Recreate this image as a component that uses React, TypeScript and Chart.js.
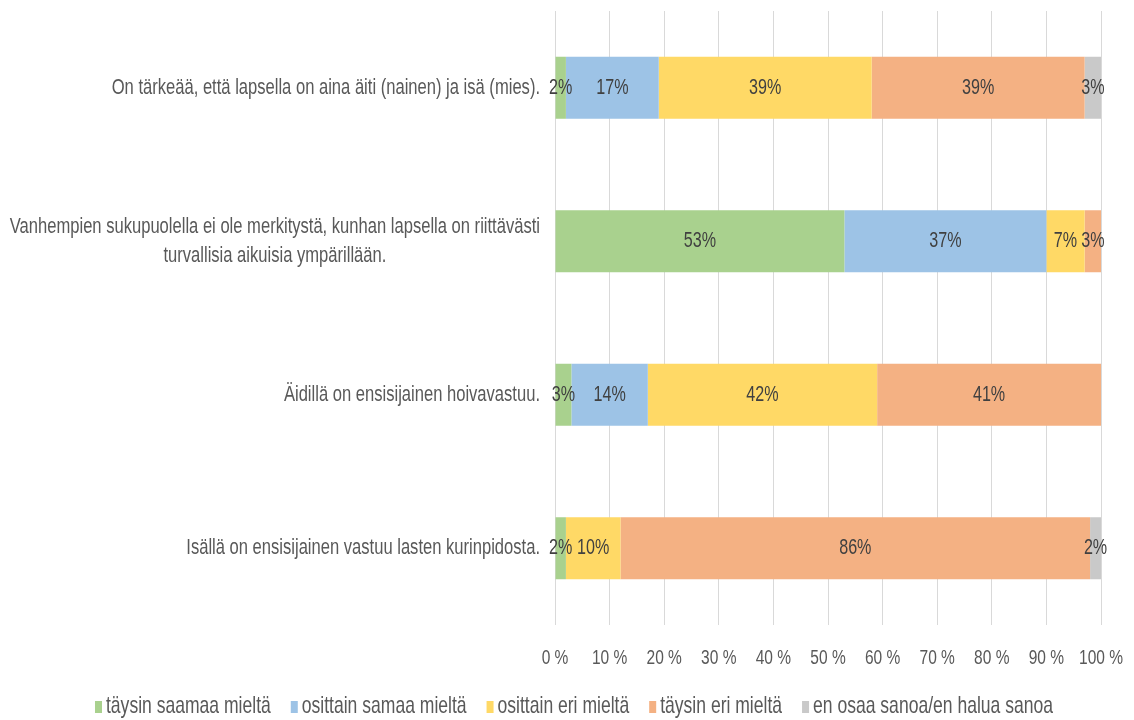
import React, { useEffect, useRef } from "react";
import { Chart, registerables } from "chart.js";

Chart.register(...registerables);

const categories: (string | string[])[] = [
  "On tärkeää, että lapsella on aina äiti (nainen) ja isä (mies).",
  [
    "Vanhempien sukupuolella ei ole merkitystä, kunhan lapsella on riittävästi",
    "turvallisia aikuisia ympärillään.",
  ],
  "Äidillä on ensisijainen hoivavastuu.",
  "Isällä on ensisijainen vastuu lasten kurinpidosta.",
];

const seriesNames = [
  "täysin saamaa mieltä",
  "osittain samaa mieltä",
  "osittain eri mieltä",
  "täysin eri mieltä",
  "en osaa sanoa/en halua sanoa",
];

const taysinSamaa = [2, 53, 3, 2];
const osittainSamaa = [17, 37, 14, 0];
const osittainEri = [39, 7, 42, 10];
const taysinEri = [39, 3, 41, 86];
const enOsaa = [3, 0, 0, 2];

const colors = ["#A9D18E", "#9DC3E6", "#FFD966", "#F4B183", "#C9C9C9"];

const xTicks = [0, 10, 20, 30, 40, 50, 60, 70, 80, 90, 100];

const FONT = "'Liberation Sans', Arial, sans-serif";
const SX = 0.75; // horizontal text condensing

const PLOT_LEFT = 555;

function drawText(ctx: any, text: string, x: number, y: number, align: string, size: number, color: string) {
  ctx.save();
  ctx.font = `${size}px ${FONT}`;
  ctx.fillStyle = color;
  ctx.textAlign = align;
  ctx.textBaseline = "middle";
  ctx.translate(x, y);
  ctx.scale(SX, 1);
  ctx.fillText(text, 0, 0);
  ctx.restore();
}

function measure(ctx: any, text: string, size: number) {
  ctx.save();
  ctx.font = `${size}px ${FONT}`;
  const w = ctx.measureText(text).width * SX;
  ctx.restore();
  return w;
}

const yLabelPlugin = {
  id: "yLabels",
  afterDraw(chart: any) {
    const ctx = chart.ctx;
    const yScale = chart.scales.y;
    const size = 22.1;
    const lineH = 29;
    categories.forEach((cat, i) => {
      const lines = Array.isArray(cat) ? cat : [cat];
      const maxW = Math.max(...lines.map((l) => measure(ctx, l, size)));
      const cx = PLOT_LEFT - 15 - maxW / 2;
      const cy = yScale.getPixelForValue(i);
      lines.forEach((l, j) => {
        drawText(ctx, l, cx, cy + (j - (lines.length - 1) / 2) * lineH, "center", size, "#595959");
      });
    });
  },
};

const xLabelPlugin = {
  id: "xLabels",
  afterDraw(chart: any) {
    const ctx = chart.ctx;
    const xScale = chart.scales.x;
    xTicks.forEach((v) => {
      drawText(ctx, `${v} %`, xScale.getPixelForValue(v), 658, "center", 20.7, "#595959");
    });
  },
};

const dataLabelPlugin = {
  id: "segLabels",
  afterDatasetsDraw(chart: any) {
    const ctx = chart.ctx;
    chart.data.datasets.forEach((ds: any, di: number) => {
      const meta = chart.getDatasetMeta(di);
      meta.data.forEach((bar: any, i: number) => {
        const v = ds.data[i];
        if (!v) return;
        const x = (bar.x + bar.base) / 2;
        drawText(ctx, `${v}%`, x, bar.y, "center", 21.5, "#404040");
      });
    });
  },
};

const legendPlugin = {
  id: "customLegend",
  afterDraw(chart: any) {
    const ctx = chart.ctx;
    const size = 23.4;
    const boxW = 7;
    const boxH = 12;
    const gapBox = 4;
    const gapItem = 20;
    const widths = seriesNames.map((n) => boxW + gapBox + measure(ctx, n, size));
    const total = widths.reduce((a, b) => a + b, 0) + gapItem * (seriesNames.length - 1);
    let x = chart.width / 2 - total / 2 + 7;
    const cy = 707;
    seriesNames.forEach((n, i) => {
      ctx.save();
      ctx.fillStyle = colors[i];
      ctx.fillRect(x, cy - boxH / 2, boxW, boxH);
      ctx.restore();
      drawText(ctx, n, x + boxW + gapBox, cy, "left", size, "#595959");
      x += widths[i] + gapItem;
    });
  },
};

export default function App() {
  const ref = useRef<HTMLCanvasElement | null>(null);
  useEffect(() => {
    if (!ref.current) return;
    const dataArrays = [taysinSamaa, osittainSamaa, osittainEri, taysinEri, enOsaa];
    const chart = new Chart(ref.current, {
      type: "bar",
      data: {
        labels: categories.map((c) => (Array.isArray(c) ? c.join(" ") : c)),
        datasets: dataArrays.map((d, i) => ({
          label: seriesNames[i],
          data: d,
          backgroundColor: colors[i],
          borderWidth: 0,
          barPercentage: 0.404,
          categoryPercentage: 1,
        })),
      },
      options: {
        indexAxis: "y",
        responsive: false,
        animation: false,
        layout: { padding: { top: 11, bottom: 35, left: 0, right: 33 } },
        plugins: {
          legend: { display: false },
          tooltip: { enabled: false },
        },
        scales: {
          x: {
            stacked: true,
            min: 0,
            max: 100,
            afterBuildTicks: (s: any) => {
              s.ticks = xTicks.map((v) => ({ value: v }));
            },
            afterFit: (s: any) => {
              s.height = 60;
            },
            grid: { color: "#D9D9D9", drawTicks: false, lineWidth: 1 },
            border: { display: false },
            ticks: { display: false },
          },
          y: {
            stacked: true,
            grid: { display: false },
            border: { display: false },
            ticks: { display: false },
            afterFit: (s: any) => {
              s.width = PLOT_LEFT;
            },
          },
        },
      },
      plugins: [dataLabelPlugin, yLabelPlugin, xLabelPlugin, legendPlugin],
    } as any);
    return () => chart.destroy();
  }, []);
  return (
    <div style={{ position: "fixed", left: 0, top: 0, width: 1134, height: 720, background: "#fff" }}>
      <canvas ref={ref} width={1134} height={720} style={{ display: "block" }} />
    </div>
  );
}
